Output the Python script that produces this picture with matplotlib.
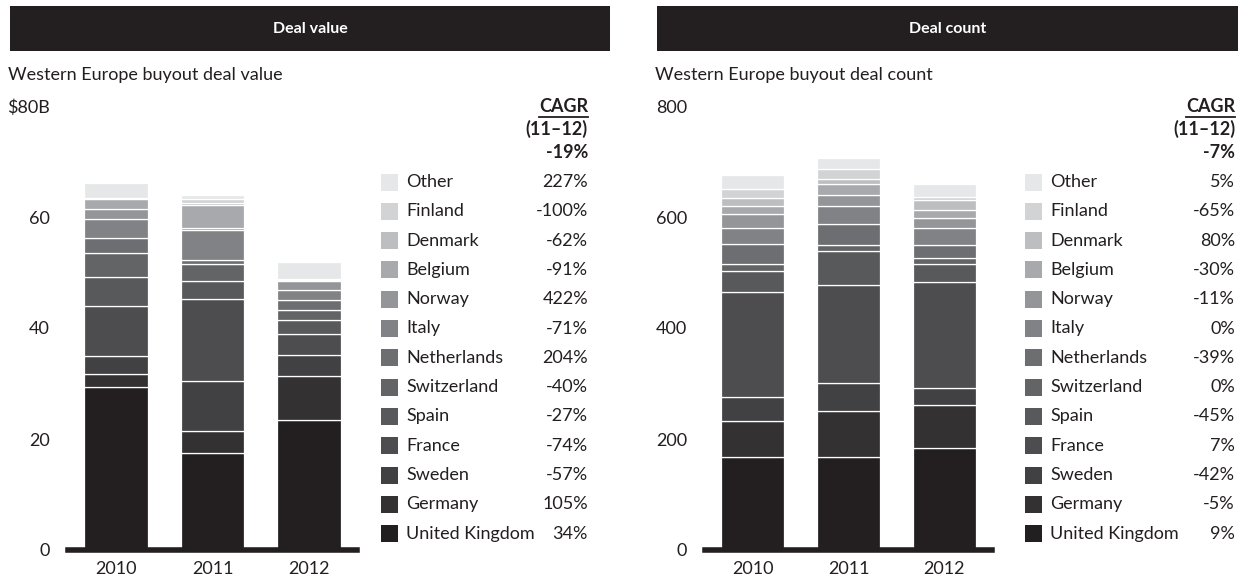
import numpy as np
import matplotlib.pyplot as plt
from matplotlib.patches import Rectangle

plt.rcParams['font.family'] = ['Lato', 'DejaVu Sans']

years = ['2010', '2011', '2012']
countries = ['United Kingdom', 'Germany', 'Sweden', 'France', 'Spain', 'Switzerland',
             'Netherlands', 'Italy', 'Norway', 'Belgium', 'Denmark', 'Finland', 'Other']
colors = ['#231f20', '#333132', '#414042', '#4d4d4f', '#58595b', '#636466', '#6d6e71',
          '#808285', '#939598', '#a7a9ac', '#bcbec0', '#d1d3d4', '#e6e7e8']

# deal value, $B (bottom -> top, same order as countries)
value_2010 = [29.4, 2.3, 3.2, 9.1, 5.1, 4.5, 2.7, 3.3, 1.9, 1.7, 0.2, 0.1, 2.7]
value_2011 = [17.5, 3.9, 9.0, 14.8, 3.3, 3.1, 0.7, 5.4, 0.4, 4.0, 0.5, 0.6, 0.7]
value_2012 = [23.5, 7.8, 3.9, 3.8, 2.5, 1.8, 1.8, 1.7, 1.6, 0.3, 0.2, 0.0, 3.0]
value_cagr = ['34%', '105%', '-57%', '-74%', '-27%', '-40%', '204%', '-71%', '422%',
              '-91%', '-62%', '-100%', '227%']
value_total_cagr = '-19%'

# deal count
count_2010 = [167, 66, 43, 188, 39, 12, 36, 30, 24, 15, 14, 16, 25]
count_2011 = [168, 83, 50, 177, 61, 10, 38, 32, 20, 20, 10, 17, 21]
count_2012 = [183, 79, 29, 191, 33, 11, 23, 32, 17, 15, 18, 5, 23]
count_cagr = ['9%', '-5%', '-42%', '7%', '-45%', '0%', '-39%', '0%', '-11%',
              '-30%', '80%', '-65%', '5%']
count_total_cagr = '-7%'

value_ticks = [0, 20, 40, 60, 80]
value_ticklabels = ['0', '20', '40', '60', '$80B']
count_ticks = [0, 200, 400, 600, 800]
count_ticklabels = ['0', '200', '400', '600', '800']

W, H = 1248, 579
ink = '#231f20'
fs = 13

fig = plt.figure(figsize=(W / 100, H / 100), dpi=100)


def px_axes(x0, x1, ytop, ybot):
    return fig.add_axes([x0 / W, 1 - ybot / H, (x1 - x0) / W, (ybot - ytop) / H])


def draw_bars(ax, data, ymax, ticks, ticklabels):
    x = np.arange(len(years))
    bottom = np.zeros(len(years))
    for i, c in enumerate(countries):
        vals = np.array([d[i] for d in data])
        ax.bar(x, vals, 0.66, bottom=bottom, color=colors[i], edgecolor='white',
               linewidth=0.9, zorder=2)
        bottom += vals
    ax.set_xlim(-0.5, 2.5)
    ax.set_ylim(0, ymax)
    ax.axhline(0, color=ink, lw=4, zorder=3, clip_on=False)
    ax.set_xticks(x)
    ax.set_xticklabels(years)
    ax.set_yticks(ticks)
    ax.set_yticklabels(ticklabels)
    ax.tick_params(axis='x', length=0, pad=8, labelsize=fs, colors=ink)
    ax.tick_params(axis='y', length=0, pad=13, labelsize=fs, colors=ink)
    for s in ax.spines.values():
        s.set_visible(False)


ax1 = px_axes(68, 357, 106, 550)
draw_bars(ax1, [value_2010, value_2011, value_2012], 80, value_ticks, value_ticklabels)
ax2 = px_axes(705, 992, 106, 550)
draw_bars(ax2, [count_2010, count_2011, count_2012], 800, count_ticks, count_ticklabels)

# overlay in pixel coordinates for headers, titles and legends
ov = fig.add_axes([0, 0, 1, 1])
ov.set_xlim(0, W)
ov.set_ylim(H, 0)
ov.axis('off')

panels = [
    (10, 610, 'Deal value', 'Western Europe buyout deal value', 8, 381, 588,
     value_cagr, value_total_cagr),
    (657, 1238, 'Deal count', 'Western Europe buyout deal count', 655, 1025, 1235,
     count_cagr, count_total_cagr),
]

row_y = [533.6 - 29.3 * i for i in range(len(countries))]

for (hx0, hx1, head, sub, subx, lx, rx, cagr, total) in panels:
    ov.add_patch(Rectangle((hx0, 6), hx1 - hx0, 45, color=ink, lw=0))
    ov.text((hx0 + hx1) / 2, 29, head, color='white', fontsize=11.5, fontweight='bold',
            ha='center', va='center')
    ov.text(subx, 75, sub, color=ink, fontsize=fs, ha='left', va='center')
    t = ov.text(rx, 107, 'CAGR', color=ink, fontsize=fs, fontweight='bold',
                ha='right', va='center')
    ov.text(rx, 129, '(11\u201312)', color=ink, fontsize=fs, fontweight='bold',
            ha='right', va='center')
    ov.text(rx, 152, total, color=ink, fontsize=fs, fontweight='bold',
            ha='right', va='center')
    fig.canvas.draw()
    bb = t.get_window_extent().transformed(ov.transData.inverted())
    ov.plot([bb.x0, bb.x1], [116.5, 116.5], color=ink, lw=1.3)
    for i, c in enumerate(countries):
        y = row_y[i]
        ov.add_patch(Rectangle((lx, y - 8.5), 17, 17, color=colors[i], lw=0))
        ov.text(lx + 25, y, c, color=ink, fontsize=fs, ha='left', va='center')
        ov.text(rx, y, cagr[i], color=ink, fontsize=fs, ha='right', va='center')

fig.savefig('out.png', dpi=100)
